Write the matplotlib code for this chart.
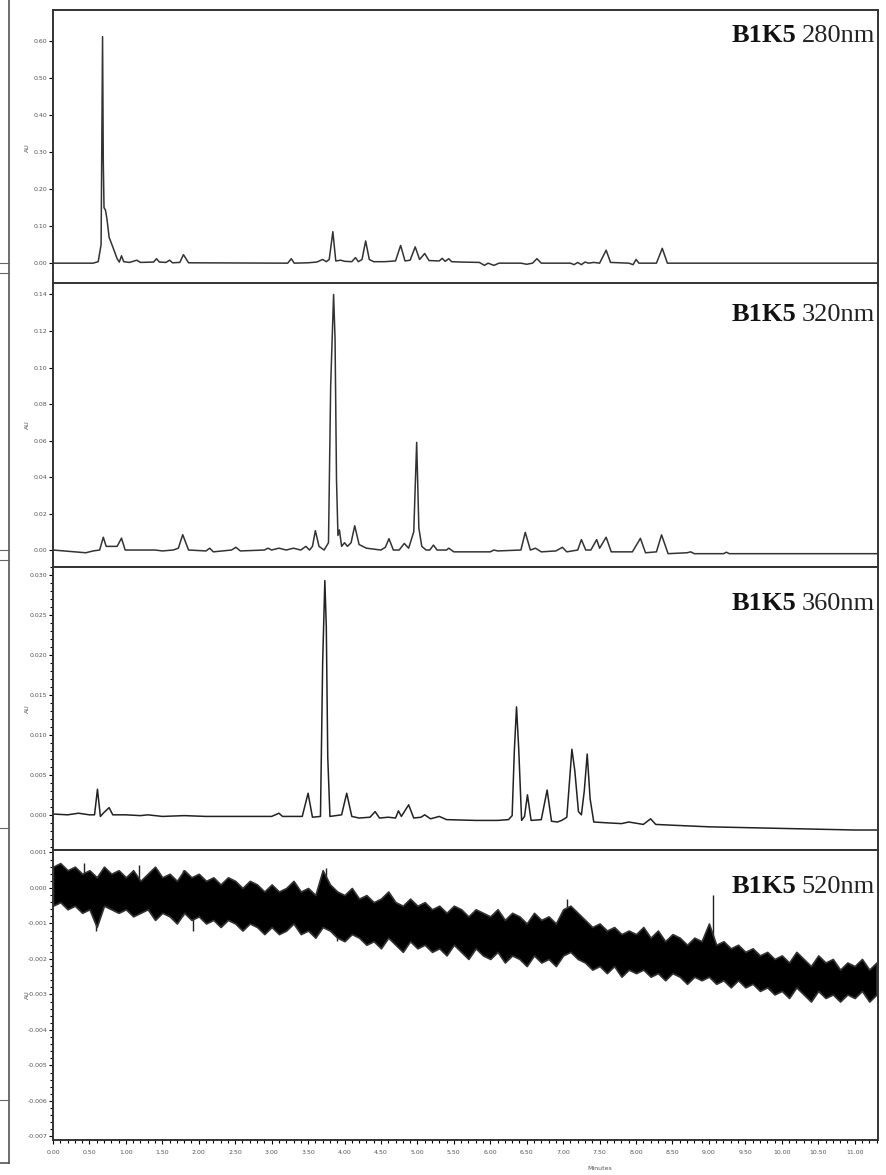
"""Cromatogramas B1K5 a 280, 320, 360 y 520 nm (AU vs minutos)."""
import numpy as np
import matplotlib.pyplot as plt
from matplotlib.lines import Line2D
from matplotlib.ticker import MultipleLocator, FormatStrFormatter

W, H = 886, 1175

t280 = [0.00, 0.55, 0.62, 0.66, 0.68, 0.69, 0.70, 0.72, 0.74, 0.77, 0.82, 0.88, 0.91, 0.94, 0.97,
        1.05, 1.15, 1.20, 1.38, 1.42, 1.46, 1.55, 1.60, 1.64, 1.74, 1.79, 1.86, 3.22, 3.27, 3.31,
        3.50, 3.62, 3.70, 3.75, 3.79, 3.84, 3.88, 3.95, 4.00, 4.10, 4.15, 4.19, 4.24, 4.29, 4.34,
        4.40, 4.55, 4.70, 4.77, 4.83, 4.90, 4.97, 5.03, 5.10, 5.16, 5.30, 5.34, 5.38, 5.43, 5.47,
        5.60, 5.85, 5.92, 5.97, 6.05, 6.12, 6.42, 6.50, 6.58, 6.64, 6.70, 7.10, 7.15, 7.20, 7.25,
        7.30, 7.35, 7.42, 7.50, 7.59, 7.65, 7.90, 7.96, 8.00, 8.04, 8.28, 8.36, 8.43, 11.35]
a280 = [0.000, 0.000, 0.004, 0.050, 0.612, 0.274, 0.150, 0.143, 0.120, 0.070, 0.044, 0.012, 0.003,
        0.020, 0.004, 0.002, 0.008, 0.002, 0.003, 0.012, 0.003, 0.002, 0.008, 0.001, 0.002, 0.023,
        0.001, 0.000, 0.012, 0.000, 0.001, 0.003, 0.010, 0.004, 0.010, 0.085, 0.006, 0.008, 0.005,
        0.004, 0.015, 0.004, 0.010, 0.060, 0.010, 0.004, 0.004, 0.006, 0.048, 0.006, 0.008, 0.044,
        0.010, 0.026, 0.007, 0.006, 0.013, 0.005, 0.012, 0.004, 0.003, 0.002, -0.006, 0.000,
        -0.006, 0.000, 0.000, -0.003, 0.000, 0.012, 0.000, 0.000, -0.004, 0.002, -0.004, 0.003,
        0.000, 0.002, 0.000, 0.035, 0.002, 0.000, -0.004, 0.010, 0.000, 0.000, 0.040, 0.000, 0.000]

t320 = [0.00, 0.30, 0.45, 0.55, 0.64, 0.69, 0.73, 0.88, 0.94, 0.99, 1.40, 1.50, 1.65, 1.72, 1.78,
        1.86, 2.10, 2.15, 2.20, 2.45, 2.51, 2.57, 2.90, 2.95, 3.00, 3.10, 3.20, 3.30, 3.40, 3.47,
        3.52, 3.56, 3.60, 3.65, 3.72, 3.78, 3.81, 3.85, 3.87, 3.89, 3.91, 3.93, 3.96, 4.00, 4.04,
        4.09, 4.14, 4.20, 4.30, 4.50, 4.56, 4.61, 4.67, 4.75, 4.82, 4.88, 4.95, 4.99, 5.02, 5.06,
        5.12, 5.17, 5.22, 5.27, 5.40, 5.43, 5.50, 6.00, 6.05, 6.10, 6.42, 6.48, 6.55, 6.62, 6.70,
        6.90, 6.99, 7.05, 7.20, 7.25, 7.31, 7.38, 7.46, 7.50, 7.59, 7.66, 7.95, 8.06, 8.13, 8.28,
        8.35, 8.44, 8.70, 8.75, 8.80, 9.20, 9.24, 9.28, 11.35]
a320 = [0.0000, -0.0010, -0.0015, -0.0005, 0.0000, 0.0070, 0.0020, 0.0020, 0.0065, 0.0000,
        0.0000, -0.0005, 0.0000, 0.0010, 0.0084, 0.0000, -0.0005, 0.0010, -0.0010, 0.0000,
        0.0015, -0.0005, 0.0000, 0.0010, 0.0000, 0.0010, 0.0000, 0.0010, 0.0000, 0.0020,
        0.0000, 0.0020, 0.0106, 0.0020, 0.0000, 0.0040, 0.0900, 0.1400, 0.1160, 0.0385,
        0.0080, 0.0110, 0.0020, 0.0040, 0.0020, 0.0040, 0.0133, 0.0030, 0.0010, 0.0000,
        0.0015, 0.0062, 0.0000, 0.0000, 0.0036, 0.0010, 0.0100, 0.0590, 0.0120, 0.0020,
        0.0000, 0.0000, 0.0027, 0.0000, 0.0000, 0.0010, -0.0010, -0.0010, 0.0000, -0.0005,
        0.0000, 0.0097, 0.0000, 0.0010, -0.0010, -0.0005, 0.0015, -0.0010, 0.0000, 0.0057,
        0.0000, 0.0000, 0.0057, 0.0010, 0.0070, -0.0010, -0.0010, 0.0064, -0.0015, -0.0010,
        0.0083, -0.0020, -0.0015, -0.0010, -0.0020, -0.0020, -0.0012, -0.0020, -0.0020]

t360 = [0.00, 0.20, 0.35, 0.50, 0.57, 0.61, 0.65, 0.70, 0.77, 0.82, 1.00, 1.20, 1.30, 1.50, 1.80,
        2.10, 2.50, 3.00, 3.10, 3.15, 3.42, 3.50, 3.56, 3.67, 3.70, 3.73, 3.75, 3.77, 3.80, 3.96,
        4.03, 4.10, 4.20, 4.35, 4.42, 4.48, 4.60, 4.70, 4.74, 4.78, 4.88, 4.95, 5.05, 5.10, 5.18,
        5.30, 5.40, 5.80, 6.10, 6.25, 6.30, 6.33, 6.36, 6.39, 6.43, 6.47, 6.51, 6.56, 6.70, 6.78,
        6.84, 6.92, 6.98, 7.05, 7.12, 7.16, 7.21, 7.25, 7.29, 7.33, 7.37, 7.42, 7.60, 7.80, 7.90,
        8.10, 8.20, 8.27, 8.50, 9.00, 9.50, 10.00, 10.50, 11.00, 11.35]
a360 = [0.0001, 0.0000, 0.0002, 0.0000, 0.0000, 0.0032, -0.0002, 0.0003, 0.0009, 0.0000,
        0.0000, -0.0001, 0.0000, -0.0002, -0.0001, -0.0002, -0.0002, -0.0002, 0.0002, -0.0002,
        -0.0002, 0.0027, -0.0003, -0.0002, 0.0190, 0.0293, 0.0235, 0.0072, -0.0002, 0.0000,
        0.0027, -0.0002, -0.0004, -0.0003, 0.0004, -0.0004, -0.0003, -0.0004, 0.0005, -0.0002,
        0.00125, -0.0004, -0.0003, 0.0000, -0.0005, -0.0002, -0.0006, -0.0007, -0.0007, -0.0006,
        -0.0001, 0.0080, 0.0135, 0.0083, -0.0007, -0.0002, 0.0025, -0.0007, -0.0006, 0.0031,
        -0.0008, -0.0009, -0.0007, -0.0003, 0.0082, 0.0055, 0.0004, 0.0000, 0.0030, 0.0076,
        0.0020, -0.0009, -0.0010, -0.0011, -0.0009, -0.0012, -0.0005, -0.0012, -0.0013, -0.0015,
        -0.0016, -0.0017, -0.0018, -0.0019, -0.0019]

# 520 nm: envolvente del ruido cada 0.1 min (unidades de 1e-4 AU)
t520 = np.linspace(0.0, 11.3, 114)
up520 = [6, 7, 5, 6, 4, 5, 3, 6, 4, 5,
         3, 5, 2, 4, 6, 3, 4, 2, 5, 3,
         4, 2, 3, 1, 3, 2, 0, 2, 1, -1,
         1, -1, 0, 2, -1, 0, -2, 5, 1, -1,
         -2, 0, -3, -2, -4, -3, -1, -4, -5, -3,
         -5, -4, -6, -5, -7, -5, -6, -8, -6, -7,
         -8, -6, -9, -7, -8, -10, -7, -9, -8, -10,
         -6, -5, -7, -9, -11, -10, -12, -11, -13, -12,
         -13, -11, -14, -12, -15, -13, -14, -16, -14, -15,
         -10, -16, -15, -17, -16, -18, -17, -19, -18, -20,
         -19, -21, -18, -20, -22, -19, -21, -20, -23, -21,
         -22, -20, -23, -21]
lo520 = [-5, -4, -6, -5, -7, -6, -11, -5, -6, -7,
         -6, -8, -7, -6, -9, -7, -8, -10, -7, -9,
         -8, -10, -9, -11, -9, -10, -12, -10, -11, -13,
         -11, -13, -12, -10, -13, -12, -14, -11, -12, -14,
         -15, -13, -14, -16, -15, -17, -14, -16, -18, -15,
         -17, -16, -18, -17, -19, -16, -18, -20, -17, -19,
         -20, -18, -21, -19, -20, -22, -19, -21, -20, -22,
         -19, -18, -20, -21, -23, -22, -24, -22, -25, -23,
         -24, -23, -25, -24, -26, -24, -25, -27, -25, -26,
         -25, -27, -26, -28, -26, -28, -27, -29, -28, -30,
         -29, -31, -28, -30, -32, -29, -31, -30, -32, -30,
         -31, -29, -32, -30]
# picos aislados del ruido (min, mín, máx en 1e-4 AU)
spk_t = [0.42, 0.59, 1.18, 1.78, 1.92, 3.74, 3.90, 7.05, 9.05]
spk_lo = [-6, -12, -7, -8, -12, -8, -15, -17, -20]
spk_hi = [7, 3, 6.5, 5, -2, 5.6, -2, -3, -2]

WAVES = ["280nm", "320nm", "360nm", "520nm"]
xticks = np.arange(0, 11.01, 0.5)

def box(top, bot):
    return [53 / W, 1 - bot / H, (878 - 53) / W, (bot - top) / H]

fig = plt.figure(figsize=(W / 100, H / 100), dpi=100)
cfg = [  # (top px, bottom px, ylim, paso mayor, paso menor, formato, baseline título px)
    (10, 285, (-0.059, 0.684), 0.10, None, "%.2f", 42),
    (283, 567, (-0.0093, 0.1463), 0.02, None, "%.2f", 321),
    (567, 850, (-0.0044, 0.0310), 0.005, 0.001, "%.3f", 610),
    (850, 1140, (-0.0071, 0.00107), 0.001, 0.0002, "%.3f", 893),
]
axes = []
for i, (top, bot, yl, maj, mnr, fmt, tb) in enumerate(cfg):
    ax = fig.add_axes(box(top, bot))
    axes.append(ax)
    ax.set_xlim(0, 11.32); ax.set_ylim(*yl)
    ax.yaxis.set_major_locator(MultipleLocator(maj))
    ax.yaxis.set_major_formatter(FormatStrFormatter(fmt))
    if mnr:
        ax.yaxis.set_minor_locator(MultipleLocator(mnr))
    ax.tick_params(axis="y", labelsize=4.5, labelcolor="#555", length=3, width=0.8, pad=1)
    ax.tick_params(axis="y", which="minor", length=2, width=0.8)
    for s in ax.spines.values():
        s.set_linewidth(1.4); s.set_color("#333")
    ax.set_ylabel("AU", fontsize=4.5, color="#555")
    ax.yaxis.set_label_coords(-0.028, 0.5)
    if i < 3:
        ax.tick_params(axis="x", bottom=False, labelbottom=False)
    else:
        ax.set_xticks(xticks)
        ax.xaxis.set_major_formatter(FormatStrFormatter("%.2f"))
        ax.xaxis.set_minor_locator(MultipleLocator(0.1))
        ax.tick_params(axis="x", labelsize=4.5, labelcolor="#555", length=3, width=0.8, pad=4)
        ax.tick_params(axis="x", which="minor", length=2, width=0.8)
        ax.set_xlabel("Minutes", fontsize=4.5, color="#555")
        ax.xaxis.set_label_coords(0.663, -0.088)
    # título: B1K5 en negrita + longitud de onda
    tw = fig.text(875 / W, 1 - tb / H, WAVES[i], ha="right", va="baseline",
                  family="Liberation Serif", fontsize=19, color="#222")
    ax.annotate("B1K5", xy=(0, 0), xycoords=tw, xytext=(-4, 0), textcoords="offset points",
                ha="right", va="bottom", family="Liberation Serif", fontsize=19,
                fontweight="bold", color="#111")

axes[0].plot(t280, a280, color="#333", lw=1.1)
axes[1].plot(t320, a320, color="#333", lw=1.1)
axes[2].plot(t360, a360, color="#222", lw=1.1)
up = np.array(up520) * 1e-4; lo = np.array(lo520) * 1e-4
axes[3].vlines(spk_t, np.array(spk_lo) * 1e-4, np.array(spk_hi) * 1e-4, color="#222", lw=1.0,
               zorder=0.5)
axes[3].fill_between(t520, lo, up, facecolor="black", edgecolor="#333", lw=1.2, zorder=1)

# borde del panel vecino recortado a la izquierda
fig.add_artist(Line2D([9 / W, 9 / W], [1.0, 1 - 1163 / H], color="#555", lw=1.2))
fig.add_artist(Line2D([0, 9 / W], [1 - 1163 / H, 1 - 1163 / H], color="#555", lw=1.2))
for yy in [263, 273, 550, 560, 828, 1100]:
    fig.add_artist(Line2D([0, 9 / W], [1 - yy / H, 1 - yy / H], color="#666", lw=0.8))

fig.savefig("out.png", dpi=100)
